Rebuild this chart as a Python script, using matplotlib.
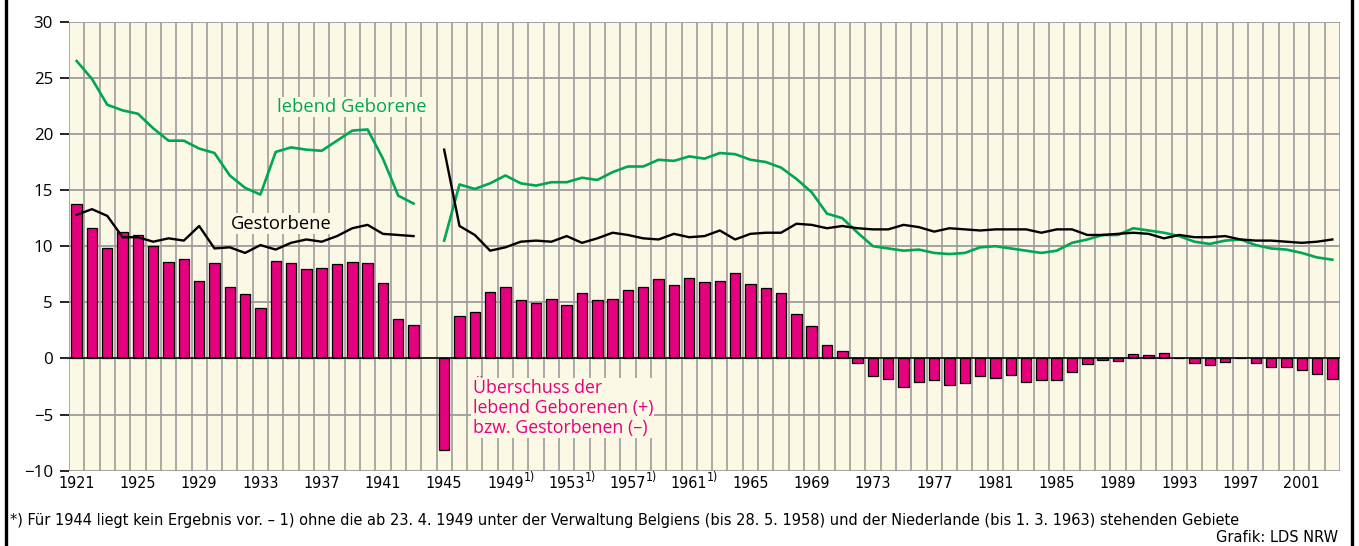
import numpy as np
import matplotlib
matplotlib.use("Agg")
import matplotlib.pyplot as plt
from matplotlib.lines import Line2D
from matplotlib import transforms
from matplotlib import font_manager as fm

nan = np.nan
years = list(range(1921, 2004))

births = [26.5, 24.9, 22.6, 22.1, 21.8, 20.5, 19.4, 19.4, 18.7, 18.3,
          16.3, 15.2, 14.6, 18.4, 18.8, 18.6, 18.5, 19.4, 20.3, 20.4,
          17.8, 14.5, 13.8, nan,
          10.5, 15.5, 15.1, 15.6, 16.3, 15.6, 15.4, 15.7, 15.7, 16.1,
          15.9, 16.6, 17.1, 17.1, 17.7, 17.6, 18.0, 17.8, 18.3, 18.2,
          17.7, 17.5, 17.0, 16.0, 14.8, 12.9, 12.5, 11.2, 10.0, 9.8,
          9.6, 9.7, 9.4, 9.3, 9.4, 9.9, 10.0, 9.8, 9.6, 9.4,
          9.6, 10.3, 10.6, 11.0, 11.0, 11.6, 11.4, 11.2, 10.9, 10.4,
          10.2, 10.5, 10.6, 10.1, 9.8, 9.7, 9.4, 9.0, 8.8]

deaths = [12.8, 13.3, 12.7, 10.8, 10.8, 10.4, 10.7, 10.5, 11.8, 9.8,
          9.9, 9.4, 10.1, 9.7, 10.3, 10.6, 10.4, 10.9, 11.6, 11.9,
          11.1, 11.0, 10.9, nan,
          18.6, 11.8, 11.0, 9.6, 9.9, 10.4, 10.5, 10.4, 10.9, 10.3,
          10.7, 11.2, 11.0, 10.7, 10.6, 11.1, 10.8, 10.9, 11.4, 10.6,
          11.1, 11.2, 11.2, 12.0, 11.9, 11.6, 11.8, 11.6, 11.5, 11.5,
          11.9, 11.7, 11.3, 11.6, 11.5, 11.4, 11.5, 11.5, 11.5, 11.2,
          11.5, 11.5, 11.0, 11.0, 11.1, 11.2, 11.1, 10.7, 11.0, 10.8,
          10.8, 10.9, 10.6, 10.5, 10.5, 10.4, 10.3, 10.4, 10.6]

surplus = [13.8, 11.6, 9.8, 11.3, 11.0, 10.0, 8.6, 8.9, 6.9, 8.5,
           6.4, 5.7, 4.5, 8.7, 8.5, 8.0, 8.1, 8.4, 8.6, 8.5,
           6.7, 3.5, 3.0, nan,
           -8.2, 3.8, 4.1, 5.9, 6.4, 5.2, 4.9, 5.3, 4.8, 5.8,
           5.2, 5.3, 6.1, 6.4, 7.1, 6.5, 7.2, 6.8, 6.9, 7.6,
           6.6, 6.3, 5.8, 4.0, 2.9, 1.2, 0.7, -0.4, -1.6, -1.8,
           -2.5, -2.1, -1.9, -2.4, -2.2, -1.6, -1.7, -1.5, -2.1, -1.9,
           -1.9, -1.2, -0.5, -0.1, -0.2, 0.4, 0.3, 0.5, 0.0, -0.4,
           -0.6, -0.3, 0.0, -0.4, -0.8, -0.8, -1.0, -1.4, -1.8]

xtick_years = list(range(1921, 2002, 4))
xtick_labels = [str(y) for y in xtick_years]
footnote_years = [1949, 1953, 1957, 1961]
yticks = [-10, -5, 0, 5, 10, 15, 20, 25, 30]

CREAM = "#fcf8e6"
MAGENTA = "#e5007d"
GREEN = "#00a651"
GRID = "#9c9c9c"
REG = "Open Sans"

# narrow font for x labels and footnote
_cond = fm.findfont(fm.FontProperties(family="DejaVu Sans", stretch="condensed"),
                    fallback_to_default=True)
if "Condensed" in _cond:
    NARROW = dict(family="DejaVu Sans", stretch="condensed")
    NSIZE, FSIZE, SSIZE = 11.5, 11.7, 8.8
else:
    NARROW = dict(family="Liberation Sans")
    NSIZE, FSIZE, SSIZE = 11.0, 10.6, 8.0

fig = plt.figure(figsize=(13.59, 5.46), dpi=100)
ax = fig.add_axes([69/1359, 1-470.7/546, (1340-69)/1359, (470.7-21.7)/546])
ax.set_facecolor(CREAM)
ax.set_xlim(1920.5, 2003.5)
ax.set_ylim(-10, 30)

# grid
ax.set_xticks(np.arange(1920.5, 2004, 1), minor=True)
ax.set_yticks(yticks)
ax.grid(which="minor", axis="x", color=GRID, lw=1.2, zorder=0)
ax.grid(which="major", axis="y", color=GRID, lw=1.3, zorder=0)
ax.grid(which="major", axis="x", visible=False)
ax.set_axisbelow(True)
for s in ax.spines.values():
    s.set_visible(False)

ax.set_xticks(xtick_years)
ax.set_xticklabels(xtick_labels, fontsize=NSIZE, **NARROW)
ax.tick_params(axis="x", which="both", length=0, pad=3.5)
ax.tick_params(axis="y", length=6.5, width=1.2, color="black", pad=5,
               labelsize=12.2)
for lab in ax.get_yticklabels():
    lab.set_fontfamily(REG)

# bars and lines
ax.bar(years, surplus, width=0.68, color=MAGENTA, edgecolor="black",
       linewidth=0.9, zorder=3)
ax.axhline(0, color="black", lw=1.1, zorder=4)
ax.plot(years, births, color=GREEN, lw=1.9, zorder=5)
ax.plot(years, deaths, color="black", lw=1.7, zorder=6)

box = dict(facecolor=CREAM, edgecolor="none", pad=1.0)
ax.text(1934.1, 22.4, "lebend Geborene", color=GREEN, fontsize=13.2,
        fontfamily=REG, va="center", ha="left", bbox=box, zorder=7)
ax.text(1931.1, 12.0, "Gestorbene", color="black", fontsize=13.2,
        fontfamily=REG, va="center", ha="left", bbox=box, zorder=7)
ax.text(1946.85, -1.85, "Überschuss der\nlebend Geborenen (+)\nbzw. Gestorbenen (–)",
        color=MAGENTA, fontsize=12.8, fontfamily=REG, va="top", ha="left",
        linespacing=1.13, bbox=box, zorder=7)

# footnote markers on tick labels
trans = transforms.blended_transform_factory(ax.transData, ax.transAxes)
for y in footnote_years:
    ax.annotate("1)", xy=(y, 0), xycoords=trans, xytext=(13, -0.5),
                textcoords="offset points", fontsize=SSIZE,
                ha="left", va="top", **NARROW)

fig.text(10/1359, 1-520/546,
         "*) Für 1944 liegt kein Ergebnis vor. – 1) ohne die ab 23. 4. 1949 unter der "
         "Verwaltung Belgiens (bis 28. 5. 1958) und der Niederlande (bis 1. 3. 1963) "
         "stehenden Gebiete",
         fontsize=FSIZE, va="center", ha="left", **NARROW)
fig.text(1338/1359, 1-537/546, "Grafik: LDS NRW",
         fontsize=FSIZE, va="center", ha="right", **NARROW)

# outer frame lines
fig.add_artist(Line2D([5.5/1359, 5.5/1359], [0, 1], color="black", lw=2.4,
                      transform=fig.transFigure))
fig.add_artist(Line2D([1351.5/1359, 1351.5/1359], [0, 1], color="black", lw=2.4,
                      transform=fig.transFigure))

fig.savefig("out.png", dpi=100, facecolor="white")
